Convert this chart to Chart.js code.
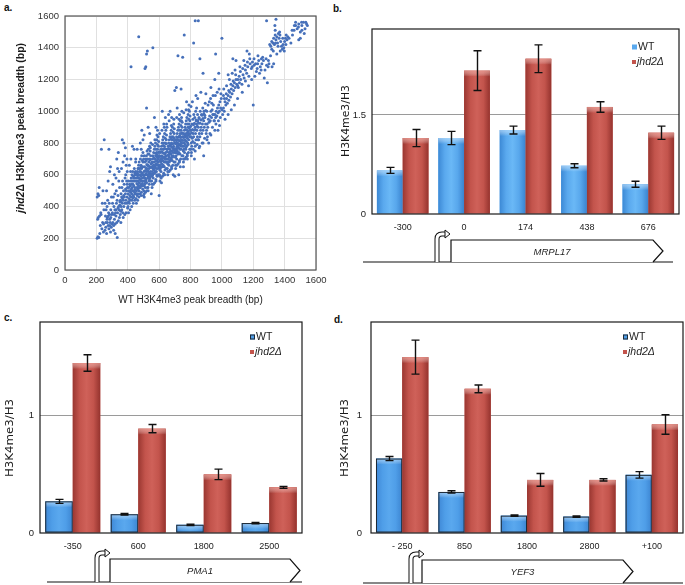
<!DOCTYPE html>
<html>
<head>
<meta charset="utf-8">
<script src="https://cdn.jsdelivr.net/npm/chart.js@4.4.0/dist/chart.umd.min.js"></script>
<style>
  body { margin: 0; background: #fff; width: 685px; height: 585px; position: relative; overflow: hidden; }
  .panel { position: absolute; }
  .tag { position: absolute; font: bold 10px "Liberation Sans", Arial, sans-serif; color: #111; }
</style>
</head>
<body>
<div class="tag" style="left:4px;top:2px">a.</div>
<div class="tag" style="left:333px;top:3px">b.</div>
<div class="tag" style="left:4px;top:312px">c.</div>
<div class="tag" style="left:334px;top:314px">d.</div>

<div class="panel" style="left:0;top:0;width:340px;height:310px"><canvas id="chartA"></canvas></div>
<div class="panel" style="left:340px;top:0;width:345px;height:290px"><canvas id="chartB"></canvas></div>
<div class="panel" style="left:0;top:290px;width:340px;height:295px"><canvas id="chartC"></canvas></div>
<div class="panel" style="left:340px;top:290px;width:345px;height:295px"><canvas id="chartD"></canvas></div>

<script>
// --- Data ---

// a. peak breadth, WT (x) vs jhd2 (y), bp
const peakPairs = [
  [205,200],[210,210],[215,205],[208,320],[212,330],[220,340],[205,460],[215,470],[210,480],[230,350],[240,300],[225,280],[235,260],[245,240],[228,360],[238,420],[248,380],[250,820],[232,760],[218,520],[242,500],[246,290],[222,230],
  [255,250],[260,270],[265,230],[270,300],[275,280],[280,260],[285,320],[290,240],[258,340],[262,380],[268,400],[272,440],[278,360],[282,420],[288,300],[295,270],[298,350],[265,500],[275,560],[285,620],[290,650],[280,760],[296,460],[270,330],[286,280],[292,380],[255,420],
  [300,290],[305,300],[310,280],[315,320],[320,290],[325,340],[330,300],[335,360],[340,310],[345,380],[303,420],[308,460],[312,400],[318,480],[322,360],[328,420],[332,440],[338,470],[342,400],[348,520],[305,540],[315,600],[325,580],[335,640],[345,620],[330,700],[340,740],[310,250],[320,230],[350,430],[347,330],[333,205],[318,380],[327,500],[343,560],
  [352,350],[355,370],[358,400],[362,380],[365,420],[368,360],[372,440],[375,400],[378,460],[382,420],[385,480],[388,440],[392,500],[395,460],[398,520],[353,440],[357,480],[363,520],[367,560],[373,500],[377,540],[383,580],[387,600],[393,560],[397,620],[360,640],[370,680],[380,720],[390,660],[365,820],[375,800],[385,770],[395,700],[356,300],[371,330],[389,360],[399,390],[361,460],[381,350],[394,420],
  [402,400],[405,430],[408,450],[410,420],[413,470],[415,440],[418,490],[420,460],[423,510],[425,480],[428,520],[430,500],[433,540],[435,470],[438,530],[440,500],[443,560],[445,520],[448,580],[403,480],[407,520],[412,540],[417,560],[422,580],[427,600],[432,620],[437,580],[442,640],[447,600],[405,360],[415,380],[425,400],[435,420],[445,440],[410,660],[420,700],[430,780],[440,760],[450,680],[418,620],[428,440],[438,460],[446,480],[421,1280],[404,560],[414,500],[424,540],[434,560],[444,490],[449,620],
  [452,450],[454,480],[456,500],[458,520],[460,470],[462,540],[464,510],[466,560],[468,530],[470,580],[472,500],[474,550],[476,600],[478,570],[480,520],[482,620],[484,590],[486,540],[488,640],[490,560],[492,610],[494,580],[496,650],[498,600],[453,560],[457,600],[461,620],[465,640],[469,660],[473,680],[477,640],[481,700],[485,660],[489,720],[493,690],[497,740],[455,420],[463,440],[471,460],[479,480],[487,490],[495,510],[459,580],[467,600],[475,620],[483,560],[491,530],[499,560],[470,1470],[480,800],[490,880],[460,760],[486,760],[475,520],[465,480],[500,470],[451,700],[497,820],
  [502,500],[504,530],[506,560],[508,540],[510,580],[512,520],[514,600],[516,570],[518,620],[520,550],[522,640],[524,600],[526,580],[528,660],[530,620],[532,590],[534,680],[536,640],[538,610],[540,700],[542,650],[544,620],[546,720],[548,670],[503,620],[507,650],[511,680],[515,700],[519,720],[523,750],[527,700],[531,760],[535,730],[539,780],[543,750],[547,800],[505,480],[513,490],[521,500],[529,520],[537,540],[545,560],[509,600],[517,640],[525,660],[533,600],[541,580],[549,600],[520,1020],[525,1380],[520,1360],[515,1280],[510,1270],[530,900],[540,860],[505,850],[515,560],[525,520],[535,560],[545,590],[550,480],[501,700],
  [552,560],[554,590],[556,620],[558,600],[560,640],[562,580],[564,660],[566,630],[568,680],[570,610],[572,700],[574,650],[576,620],[578,720],[580,670],[582,640],[584,740],[586,690],[588,660],[590,760],[592,700],[594,680],[596,780],[598,720],[553,680],[557,700],[561,720],[565,740],[569,760],[573,780],[577,800],[581,760],[585,820],[589,790],[593,840],[597,810],[555,520],[563,540],[571,550],[579,570],[587,590],[595,600],[559,600],[567,640],[575,660],[583,620],[591,640],[599,650],[560,1400],[570,960],[580,900],[590,880],[600,470],[575,700],[585,600],[595,740],[555,650],[565,610],[588,710],[598,660],
  [602,600],[604,630],[606,660],[608,640],[610,680],[612,620],[614,700],[616,670],[618,720],[620,650],[622,740],[624,690],[626,660],[628,760],[630,710],[632,680],[634,780],[636,730],[638,700],[640,800],[642,740],[644,720],[646,820],[648,760],[603,720],[607,740],[611,760],[615,780],[619,800],[623,820],[627,840],[631,800],[635,860],[639,830],[643,880],[647,850],[605,560],[613,580],[621,590],[629,610],[637,630],[645,640],[609,650],[617,690],[625,710],[633,650],[641,680],[649,700],[620,1000],[640,960],[630,920],[650,900],[615,550],[635,600],[645,680],[625,760],[605,690],[640,700],
  [652,640],[654,670],[656,700],[658,680],[660,720],[662,660],[664,740],[666,710],[668,760],[670,690],[672,780],[674,730],[676,700],[678,800],[680,750],[682,720],[684,820],[686,770],[688,740],[690,840],[692,780],[694,760],[696,860],[698,800],[653,760],[657,780],[661,800],[665,820],[669,840],[673,860],[677,880],[681,840],[685,900],[689,870],[693,920],[697,890],[655,600],[663,620],[671,630],[679,650],[687,660],[695,680],[659,700],[667,730],[675,750],[683,690],[691,720],[699,740],[660,980],[680,960],[700,590],[690,600],[670,1000],[685,710],[665,680],[675,790],[695,830],
  [702,680],[704,710],[706,740],[708,720],[710,760],[712,700],[714,780],[716,750],[718,800],[720,730],[722,820],[724,770],[726,740],[728,840],[730,790],[732,760],[734,860],[736,810],[738,780],[740,880],[742,820],[744,800],[746,900],[748,840],[703,800],[707,820],[711,840],[715,860],[719,880],[723,900],[727,920],[731,880],[735,940],[739,910],[743,960],[747,930],[705,640],[713,660],[721,670],[729,690],[737,700],[745,720],[709,740],[717,770],[725,790],[733,730],[741,760],[749,780],[720,1350],[750,1340],[710,1150],[740,1140],[700,1130],[730,980],[715,1020],[745,1000],[725,600],[735,650],[705,750],[745,860],
  [752,720],[754,750],[756,780],[758,760],[760,800],[762,740],[764,820],[766,790],[768,840],[770,770],[772,860],[774,810],[776,780],[778,880],[780,830],[782,800],[784,900],[786,850],[788,820],[790,920],[792,860],[794,840],[796,940],[798,880],[753,840],[757,860],[761,880],[765,900],[769,920],[773,940],[777,960],[781,920],[785,980],[789,950],[793,1000],[797,970],[755,680],[763,700],[771,710],[779,730],[787,740],[795,760],[760,1480],[775,1060],[790,1040],[755,650],[780,700],[770,760],[765,850],[785,790],[795,900],
  [802,760],[805,800],[808,780],[811,830],[814,810],[817,860],[820,840],[823,880],[826,800],[829,900],[832,860],[835,820],[838,920],[841,880],[844,840],[847,940],[850,900],[803,880],[809,920],[815,950],[821,980],[827,960],[833,1000],[839,1020],[845,980],[806,740],[818,760],[830,780],[842,790],[848,820],[830,1570],[850,1570],[820,1430],[860,1330],[835,1100],[812,1060],[846,1080],[825,700],[804,840],[836,940],
  [852,820],[856,860],[860,840],[864,880],[868,900],[872,860],[876,920],[880,880],[884,940],[888,900],[892,960],[896,920],[854,960],[862,1000],[870,980],[878,1020],[886,1000],[894,1050],[858,780],[874,800],[890,830],[880,1240],[866,1120],[898,1110],[884,720],[900,860],
  [902,880],[906,920],[910,900],[914,950],[918,930],[922,970],[926,940],[930,1000],[934,960],[938,1010],[942,980],[946,1040],[904,1000],[912,1040],[920,1060],[928,1080],[936,1050],[944,1100],[908,840],[924,860],[940,900],[950,940],[930,1150],[916,800],[948,980],
  [952,940],[956,980],[960,960],[964,1000],[968,970],[972,1020],[976,990],[980,1040],[984,1000],[988,1060],[992,1020],[996,1080],[958,1100],[970,1120],[982,1140],[994,1110],[962,920],[978,940],[990,960],[960,1360],[1000,1460],[980,1240],[955,1200],[975,880],
  [1005,980],[1010,1020],[1015,1000],[1020,1060],[1025,1040],[1030,1080],[1035,1050],[1040,1100],[1045,1070],[1050,1120],[1055,1090],[1060,1140],[1065,1110],[1070,1160],[1075,1130],[1080,1180],[1085,1150],[1090,1200],[1095,1170],[1012,1140],[1030,1160],[1048,1200],[1066,1240],[1084,1260],[1020,950],[1040,980],[1060,1010],[1080,1040],[1100,1080],[1040,1230],[1070,1330],[1090,1320],[1010,1100],[1100,1160],
  [1105,1150],[1112,1180],[1120,1200],[1128,1170],[1135,1230],[1142,1210],[1150,1260],[1158,1240],[1165,1280],[1172,1220],[1180,1300],[1188,1270],[1195,1310],[1115,1280],[1140,1320],[1160,1380],[1175,1360],[1130,1120],[1170,1160],[1200,1040],[1190,1200],[1110,1220],[1150,1190],
  [1205,1290],[1215,1300],[1225,1270],[1235,1320],[1245,1280],[1255,1300],[1265,1320],[1275,1260],[1285,1290],[1295,1280],[1210,1220],[1240,1240],[1270,1210],[1290,1180],[1230,1350],[1260,1340],[1300,1300],[1285,1570],[1250,1260],[1220,1250],
  [1305,1420],[1312,1410],[1318,1440],[1325,1430],[1330,1460],[1335,1420],[1340,1480],[1345,1450],[1350,1470],[1355,1430],[1360,1490],[1365,1460],[1370,1480],[1375,1440],[1380,1410],[1385,1390],[1390,1420],[1395,1400],[1400,1440],[1405,1460],[1410,1480],[1415,1450],[1420,1470],[1338,1540],[1345,1580],[1340,1510],[1320,1280],[1330,1300],[1310,1350],[1350,1360],[1372,1380],[1398,1380],
  [1440,1430],[1450,1480],[1460,1510],[1470,1560],[1480,1520],[1490,1550],[1500,1500],[1510,1540],[1520,1560],[1530,1520],[1540,1550],[1545,1540],[1470,1540],[1500,1460],[1490,1450],[1510,1510],[1525,1490],
  // denser core and edges
  [432,455],[447,505],[458,545],[463,585],[476,530],[481,575],[489,605],[494,545],[503,585],[509,625],[513,555],[518,605],[522,665],[527,625],[533,655],[538,575],[542,695],[547,645],[551,605],[556,675],[561,655],[566,705],[571,645],[577,735],[582,685],[587,725],[591,665],[596,705],[601,745],[606,715],[611,695],[616,745],[621,705],[626,785],[631,735],[636,765],[641,715],[646,795],[651,745],[656,725],[661,765],[666,785],[671,745],[676,825],[681,775],[686,795],[691,755],[696,815],[701,765],[706,795],[711,805],[716,835],[721,785],[726,815],[731,845],[736,835],[741,795],[746,865],[751,815],[756,835],[761,855],[766,815],[771,885],[776,845],[781,865],[786,875],[791,895],[796,855],[801,905],[807,865],[813,885],[819,915],[825,925],[831,885],[837,945],[843,905],[849,925],[855,955],[861,925],[867,945],[873,975],[879,955],[885,985],[891,975],[897,1005],
  [462,610],[468,640],[484,650],[497,680],[505,720],[517,690],[529,730],[544,770],[558,790],[573,820],[586,850],[603,860],[618,880],[633,900],[648,920],[664,940],[678,910],[694,950],[712,960],[727,950],[742,940],[757,990],[772,1010],[788,1010],[803,1030],
  [485,470],[505,460],[530,500],[555,540],[580,560],[605,590],[630,600],[655,620],[680,640],[705,660],[730,680],[755,700],[780,720],[805,720],[830,750],[855,770],[880,800],[905,820],[930,850],[955,880],[985,910],
  [260,300],[268,320],[276,340],[284,350],[292,330],[302,360],[314,350],[326,380],[338,390],[349,410],[358,430],[366,450],[374,470],[386,510],[396,540],[406,500],[416,530],[426,560],[436,590],[446,610],
  [1000,1010],[1016,1080],[1028,1110],[1044,1130],[1058,1170],[1072,1190],[1088,1230],[1102,1200],[1118,1250],[1133,1270],[1148,1290],[1163,1310],[1178,1330],[1193,1280],[1205,1330],[1228,1300],[1252,1330],[1282,1330],[1297,1320],[1318,1390],[1328,1380],[1342,1430],[1358,1410],[1368,1500],[1388,1460],[1408,1420],[1428,1460],[1448,1510],[1462,1540],[1488,1530],[1508,1560],[1535,1560]
];

// b. MRPL17
const mrplSites = ['-300', '0', '174', '438', '676'];
const mrplWT = [0.66, 1.15, 1.27, 0.73, 0.45];
const mrplWTErr = [0.045, 0.10, 0.06, 0.03, 0.045];
const mrplJhd2 = [1.15, 2.17, 2.35, 1.62, 1.23];
const mrplJhd2Err = [0.13, 0.30, 0.21, 0.08, 0.10];
const mrplTicks = [0, 1.5];

// c. PMA1
const pmaSites = ['-350', '600', '1800', '2500'];
const pmaWT = [0.27, 0.16, 0.07, 0.085];
const pmaWTErr = [0.017, 0.006, 0.006, 0.006];
const pmaJhd2 = [1.45, 0.89, 0.50, 0.39];
const pmaJhd2Err = [0.07, 0.035, 0.045, 0.008];
const pmaTicks = [0, 1];

// d. YEF3
const yefSites = ['- 250', '850', '1800', '2800', '+100'];
const yefWT = [0.635, 0.35, 0.148, 0.14, 0.496];
const yefWTErr = [0.018, 0.01, 0.006, 0.006, 0.028];
const yefJhd2 = [1.50, 1.23, 0.453, 0.453, 0.926];
const yefJhd2Err = [0.145, 0.033, 0.054, 0.01, 0.083];
const yefTicks = [0, 1];

// --- Styling ---
const FONT = '"Liberation Sans", Arial, Helvetica, sans-serif';
const WIDE = '"DejaVu Sans", "Liberation Sans", sans-serif';
Chart.defaults.font.family = FONT;
Chart.defaults.color = '#222';

const BLUE_SOFT = ['#3c89d5', '#5aa9ee', '#6ab8f6', '#58a7ec', '#3a83cf'];
const BLUE_FLAT = ['#3f88d6', '#4f9ee8', '#5aa8ee', '#4f9ee8', '#3c84d0'];
const RED = ['#9a3731', '#c3544c', '#cf6159', '#c3544c', '#95332e'];

// --- Helpers ---
function drawVerticalTitle(ctx, t) {
  ctx.save();
  ctx.translate(t.x, t.y);
  ctx.rotate(-Math.PI / 2);
  const fam = t.family || FONT;
  let w = 0;
  t.parts.forEach(p => {
    ctx.font = (p.it ? 'italic ' : '') + (t.weight || '') + ' ' + t.size + 'px ' + fam;
    w += ctx.measureText(p.t).width;
  });
  ctx.scale(t.len ? t.len / w : 1, 1);
  let x = -w / 2;
  ctx.textBaseline = 'middle';
  ctx.textAlign = 'left';
  ctx.fillStyle = '#1a1a1a';
  t.parts.forEach(p => {
    ctx.font = (p.it ? 'italic ' : '') + (t.weight || '') + ' ' + t.size + 'px ' + fam;
    ctx.fillText(p.t, x, 0);
    x += ctx.measureText(p.t).width;
  });
  ctx.restore();
}

function shadeBars(chart) {
  const ctx = chart.ctx;
  chart.data.datasets.forEach((ds, di) => {
    chart.getDatasetMeta(di).data.forEach(bar => {
      const p = bar.getProps(['x', 'y', 'base', 'width'], true);
      const l = p.x - p.width / 2, h = p.base - p.y;
      const g = ctx.createLinearGradient(l, 0, l + p.width, 0);
      ds.shade.forEach((c, k) => g.addColorStop(k / (ds.shade.length - 1), c));
      ctx.fillStyle = g;
      ctx.fillRect(l, p.y, p.width, h);
      const t = ctx.createLinearGradient(0, p.y, 0, p.y + 6);
      t.addColorStop(0, ds.gloss);
      t.addColorStop(1, 'rgba(255,255,255,0)');
      ctx.fillStyle = t;
      ctx.fillRect(l, p.y, p.width, Math.min(6, h));
      if (ds.edge) {
        ctx.strokeStyle = ds.edge;
        ctx.lineWidth = 1;
        ctx.strokeRect(l + 0.5, p.y + 0.5, p.width - 1, h - 1);
      }
    });
  });
}

function drawErrors(chart) {
  const ctx = chart.ctx, ys = chart.scales.y;
  ctx.save();
  ctx.strokeStyle = '#111';
  ctx.lineWidth = 1.4;
  chart.data.datasets.forEach((ds, di) => {
    chart.getDatasetMeta(di).data.forEach((bar, i) => {
      const v = ds.data[i], e = ds.errors[i];
      const x = Math.round(bar.x) + 0.5;
      const y1 = ys.getPixelForValue(v + e), y2 = ys.getPixelForValue(v - e);
      ctx.beginPath();
      ctx.moveTo(x, y1); ctx.lineTo(x, y2);
      ctx.moveTo(x - 4, y1); ctx.lineTo(x + 4, y1);
      ctx.moveTo(x - 4, y2); ctx.lineTo(x + 4, y2);
      ctx.stroke();
    });
  });
  ctx.restore();
}

function drawGene(ctx, g) {
  ctx.save();
  ctx.strokeStyle = '#111';
  ctx.lineWidth = 1.2;
  ctx.beginPath();
  ctx.moveTo(g.lineFrom, g.base); ctx.lineTo(g.lineTo, g.base);
  ctx.stroke();
  const mid = (g.top + g.base) / 2;
  ctx.beginPath();
  ctx.moveTo(g.boxLeft, g.base);
  ctx.lineTo(g.boxLeft, g.top);
  ctx.lineTo(g.boxRight, g.top);
  ctx.lineTo(g.tip, mid);
  ctx.lineTo(g.boxRight, g.base);
  ctx.fillStyle = '#fff';
  ctx.fill();
  ctx.stroke();
  // bent promoter arrow, hollow
  const sx = g.stem, ay = g.top - 6;
  ctx.beginPath();
  ctx.moveTo(sx, g.base);
  ctx.lineTo(sx, ay + 5);
  ctx.quadraticCurveTo(sx, ay, sx + 5, ay);
  ctx.lineTo(sx + 9, ay);
  ctx.lineWidth = 5; ctx.strokeStyle = '#111'; ctx.stroke();
  ctx.lineWidth = 3; ctx.strokeStyle = '#fff'; ctx.stroke();
  ctx.beginPath();
  ctx.moveTo(sx + 8, ay - 4); ctx.lineTo(sx + 13, ay); ctx.lineTo(sx + 8, ay + 4);
  ctx.closePath();
  ctx.fillStyle = '#fff'; ctx.fill();
  ctx.lineWidth = 1; ctx.strokeStyle = '#111'; ctx.stroke();
  ctx.font = 'italic 9.5px ' + FONT;
  ctx.fillStyle = '#222';
  ctx.textAlign = 'center';
  ctx.textBaseline = 'middle';
  ctx.fillText(g.name, (g.boxLeft + g.boxRight) / 2, mid + 1);
  ctx.restore();
}

function drawLegend(ctx, lg) {
  ctx.save();
  ctx.textBaseline = 'middle';
  ctx.textAlign = 'left';
  lg.items.forEach((it, k) => {
    const y = lg.y + k * 15;
    ctx.fillStyle = it.color;
    ctx.fillRect(lg.x, y - it.size / 2, it.size, it.size);
    if (it.edge) {
      ctx.strokeStyle = it.edge; ctx.lineWidth = 1;
      ctx.strokeRect(lg.x + 0.5, y - it.size / 2 + 0.5, it.size - 1, it.size - 1);
    }
    ctx.fillStyle = '#222';
    ctx.font = (it.it ? 'italic ' : '') + '10.5px ' + FONT;
    ctx.fillText(it.label, lg.x + it.size + 1, y + 0.5);
  });
  ctx.restore();
}

const decor = {
  id: 'decor',
  afterDatasetsDraw(chart, args, o) {
    const ctx = chart.ctx, a = chart.chartArea;
    if (o.bars) { shadeBars(chart); drawErrors(chart); }
    ctx.save();
    ctx.strokeStyle = o.frame;
    ctx.lineWidth = 1.2;
    ctx.strokeRect(a.left, a.top, a.right - a.left, a.bottom - a.top);
    ctx.restore();
  },
  afterDraw(chart, args, o) {
    const ctx = chart.ctx;
    drawVerticalTitle(ctx, o.yTitle);
    if (o.legend) drawLegend(ctx, o.legend);
    if (o.gene) drawGene(ctx, o.gene);
  }
};

// --- a. scatter ---
new Chart(document.getElementById('chartA'), {
  type: 'scatter',
  data: {
    datasets: [{
      data: peakPairs.map(p => ({ x: p[0], y: p[1] })),
      pointRadius: 1.5,
      pointHoverRadius: 1.5,
      pointBorderWidth: 0,
      pointBackgroundColor: '#4670ba'
    }]
  },
  options: {
    responsive: true,
    maintainAspectRatio: false,
    animation: false,
    events: [],
    layout: { padding: { top: 16, right: 24, left: 0, bottom: 0 } },
    plugins: {
      legend: { display: false },
      tooltip: { enabled: false },
      decor: {
        frame: '#555',
        yTitle: { parts: [{ t: 'jhd2', it: true }, { t: 'Δ H3K4me3 peak breadth (bp)' }], x: 21, y: 128, len: 170, size: 10.5, weight: '600' }
      }
    },
    scales: {
      x: {
        type: 'linear', min: 0, max: 1600,
        ticks: { stepSize: 200, font: { size: 9.5 }, color: '#333', padding: 5, maxRotation: 0, callback: v => String(v) },
        grid: { color: '#e0e0e0', drawTicks: false },
        border: { display: false },
        title: { display: true, text: 'WT H3K4me3 peak breadth (bp)', font: { size: 10 }, color: '#222', padding: { top: 2, bottom: 4 } },
        afterFit: s => { s.height = 40; }
      },
      y: {
        min: 0, max: 1600,
        ticks: { stepSize: 200, font: { size: 9.5 }, color: '#333', padding: 6, callback: v => String(v) },
        grid: { color: '#e0e0e0', drawTicks: false },
        border: { display: false },
        afterFit: s => { s.width = 65; }
      }
    }
  },
  plugins: [decor]
});

// --- bar panels ---
function barChart(id, cfg) {
  return new Chart(document.getElementById(id), {
    type: 'bar',
    data: {
      labels: cfg.sites,
      datasets: [
        { label: 'WT', data: cfg.wt, errors: cfg.wtErr, backgroundColor: cfg.wtShade[2], shade: cfg.wtShade, gloss: 'rgba(205,232,255,0.6)', edge: cfg.wtEdge, borderWidth: 0, categoryPercentage: 0.84, barPercentage: 1.0 },
        { label: 'jhd2Δ', data: cfg.jhd, errors: cfg.jhdErr, backgroundColor: RED[2], shade: RED, gloss: 'rgba(240,165,155,0.7)', edge: null, borderWidth: 0, categoryPercentage: 0.84, barPercentage: 1.0 }
      ]
    },
    options: {
      responsive: true,
      maintainAspectRatio: false,
      animation: false,
      events: [],
      layout: { padding: { top: cfg.top, right: cfg.right, left: 0, bottom: 0 } },
      plugins: {
        legend: { display: false },
        tooltip: { enabled: false },
        decor: { bars: true, frame: '#1a1a1a', yTitle: cfg.yTitle, legend: cfg.legend, gene: cfg.gene }
      },
      scales: {
        x: {
          ticks: { font: { size: 9 }, color: '#222', padding: 8, maxRotation: 0 },
          grid: { display: false, drawTicks: false, tickLength: 0 },
          border: { display: false },
          afterFit: s => { s.height = cfg.xHeight; }
        },
        y: {
          min: 0, max: cfg.yMax,
          afterBuildTicks: s => { s.ticks = cfg.ticks.map(v => ({ value: v })); },
          ticks: { font: { size: 9.5 }, color: '#222', padding: cfg.tickPad, callback: v => String(v) },
          grid: { color: c => (c.tick && c.tick.value === 0 ? 'rgba(0,0,0,0)' : '#9a9a9a'), drawTicks: false },
          border: { display: false },
          afterFit: s => { s.width = cfg.yWidth; }
        }
      }
    },
    plugins: [decor]
  });
}

const legendItems = (wtEdge, wtColor) => [
  { label: 'WT', color: wtColor, edge: wtEdge, size: 5 },
  { label: 'jhd2Δ', it: true, color: '#c3544c', size: 4 }
];

barChart('chartB', {
  sites: mrplSites, wt: mrplWT, wtErr: mrplWTErr, jhd: mrplJhd2, jhdErr: mrplJhd2Err,
  ticks: mrplTicks, yMax: 2.8, wtShade: BLUE_SOFT, wtEdge: null,
  top: 29, right: 6, yWidth: 32, xHeight: 76, tickPad: 6,
  yTitle: { parts: [{ t: 'H3K4me3/H3' }], x: 6, y: 121, len: 72, size: 10, family: WIDE },
  legend: { x: 292, y: 47, items: legendItems(null, '#5aa9ee') },
  gene: { name: 'MRPL17', base: 262, top: 240, lineFrom: 23, lineTo: 333, boxLeft: 111, boxRight: 313, tip: 323, stem: 97 }
});

barChart('chartC', {
  sites: pmaSites, wt: pmaWT, wtErr: pmaWTErr, jhd: pmaJhd2, jhdErr: pmaJhd2Err,
  ticks: pmaTicks, yMax: 1.8, wtShade: BLUE_FLAT, wtEdge: '#1e2a36',
  top: 32, right: 38, yWidth: 40, xHeight: 52, tickPad: 6,
  yTitle: { parts: [{ t: 'H3K4me3/H3' }], x: 10, y: 148, len: 78, size: 10, family: WIDE },
  legend: { x: 250, y: 47, items: legendItems('#1e2a36', '#4f9ee8') },
  gene: { name: 'PMA1', base: 292, top: 269, lineFrom: 47, lineTo: 302, boxLeft: 110, boxRight: 290, tip: 300, stem: 97 }
});

barChart('chartD', {
  sites: yefSites, wt: yefWT, wtErr: yefWTErr, jhd: yefJhd2, jhdErr: yefJhd2Err,
  ticks: yefTicks, yMax: 1.8, wtShade: BLUE_FLAT, wtEdge: '#1e2a36',
  top: 32, right: 2, yWidth: 31, xHeight: 52, tickPad: 9,
  yTitle: { parts: [{ t: 'H3K4me3/H3' }], x: 5, y: 148, len: 78, size: 10, family: WIDE },
  legend: { x: 283, y: 47, items: legendItems('#1e2a36', '#4f9ee8') },
  gene: { name: 'YEF3', base: 293, top: 270, lineFrom: 23, lineTo: 343, boxLeft: 82, boxRight: 283, tip: 293, stem: 71 }
});
</script>
</body>
</html>
